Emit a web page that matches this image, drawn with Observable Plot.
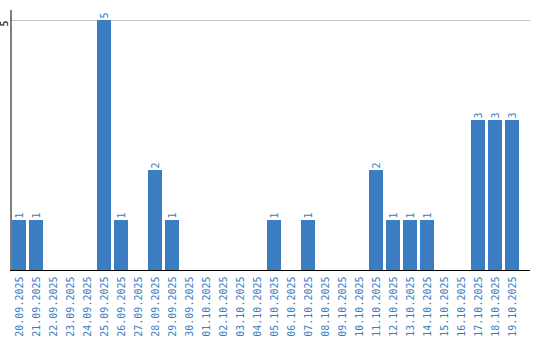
<!DOCTYPE html>
<html><head><meta charset="utf-8">
<script src="https://cdn.jsdelivr.net/npm/d3@7"></script>
<script src="https://cdn.jsdelivr.net/npm/@observablehq/plot@0.6"></script>
<style>body{margin:0;background:#fff}</style>
</head><body><div id="chart"></div>
<script>
const dates = ["20.09.2025","21.09.2025","22.09.2025","23.09.2025","24.09.2025","25.09.2025","26.09.2025","27.09.2025","28.09.2025","29.09.2025","30.09.2025","01.10.2025","02.10.2025","03.10.2025","04.10.2025","05.10.2025","06.10.2025","07.10.2025","08.10.2025","09.10.2025","10.10.2025","11.10.2025","12.10.2025","13.10.2025","14.10.2025","15.10.2025","16.10.2025","17.10.2025","18.10.2025","19.10.2025"];
const counts = [1,1,0,0,0,5,1,0,2,1,0,0,0,0,0,1,0,1,0,0,0,2,1,1,1,0,0,3,3,3];
const yTicks = [5];
const blue = "#3b7dc3";
const data = dates.map((d,i)=>({date:d, count:counts[i]}));
const nonzero = data.filter(d=>d.count>0);
const font = "DejaVu Sans Mono";
const chart = Plot.plot({
  width: 540, height: 340,
  marginLeft: 10, marginRight: 10, marginTop: 10, marginBottom: 70,
  style: {fontFamily: font, background: "#fff"},
  x: {type: "band", domain: dates, range: [10, 520], paddingInner: 3/17, paddingOuter: 3/34, axis: null},
  y: {domain: [0, 5.2], axis: null},
  marks: [
    Plot.ruleY(yTicks, {stroke: "#c8c8c8"}),
    Plot.barY(data, {x: "date", y: "count", fill: blue}),
    Plot.text(nonzero, {x: "date", y: "count", text: d=>String(d.count), rotate: -90, textAnchor: "start", lineAnchor: "middle", dy: -2, fill: blue, fontSize: 10, fontFamily: font}),
    Plot.text(dates, {x: d=>d, frameAnchor: "bottom", text: d=>d, rotate: -90, textAnchor: "end", lineAnchor: "middle", dy: 6, fill: blue, fontSize: 10, fontFamily: font}),
    Plot.text(yTicks, {y: d=>d, frameAnchor: "left", text: d=>String(d), rotate: -90, textAnchor: "middle", lineAnchor: "middle", dx: -6, dy: 3, fill: "#000", fontSize: 10, fontFamily: font}),
    Plot.ruleY([0], {stroke: "#000"}),
    Plot.ruleX([dates[0]], {y1: 0, y2: 5.2, dx: -8.5, stroke: "#000"})
  ]
});
document.getElementById("chart").appendChild(chart);
</script></body></html>
